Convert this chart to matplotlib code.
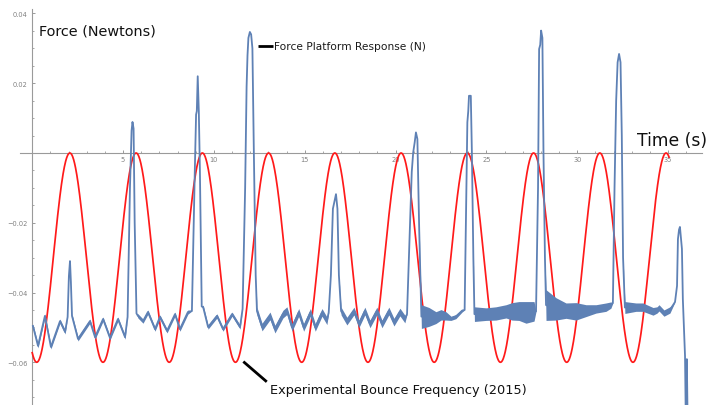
import numpy as np
import matplotlib
matplotlib.use("Agg")
import matplotlib.pyplot as plt
from matplotlib.ticker import FixedLocator, FixedFormatter

# ---------------- data ----------------
# Force platform response (time s, force N, half-width of the noise band N)
force_t = [0.04, 0.32, 0.70, 1.03, 1.53, 1.81, 1.95, 2.02, 2.08, 2.13, 2.19, 2.52, 3.18, 3.46, 3.90, 4.28, 4.72, 5.11, 5.25,
           5.38, 5.47, 5.52, 5.58, 5.64, 5.74,
           5.82, 6.10, 6.37, 6.76, 7.03, 7.42, 7.86, 8.13, 8.57, 8.79,
           8.95, 9.02, 9.06, 9.11, 9.17, 9.23, 9.33,
           9.41, 9.68, 10.17, 10.50, 11.00, 11.44, 11.58,
           11.72, 11.80, 11.85, 11.90, 11.98, 12.05, 12.12, 12.20, 12.30,
           12.37, 12.65, 13.09, 13.36, 13.80, 14.02, 14.30, 14.67, 14.94, 15.31, 15.58, 15.95, 16.22, 16.32,
           16.44, 16.55, 16.63, 16.72, 16.80, 16.88,
           17.00, 17.32, 17.71, 17.98, 18.31, 18.59, 18.97, 19.25, 19.63, 19.91, 20.24, 20.51, 20.63,
           20.80, 20.89, 20.97, 21.05, 21.12, 21.20, 21.30,
           21.42, 21.84, 22.22, 22.50, 22.77, 23.05, 23.32, 23.66, 23.80,
           23.90, 23.95, 24.00, 24.04, 24.14, 24.20, 24.28,
           24.34, 24.98, 25.52, 26.08, 26.41, 26.79, 27.18, 27.62, 27.73,
           27.84, 27.90, 27.96, 28.01, 28.08, 28.14, 28.22,
           28.28, 28.83, 29.38, 29.93, 30.48, 31.03, 31.58, 31.85, 31.96,
           32.05, 32.14, 32.22, 32.30, 32.38, 32.45, 32.52,
           32.62, 33.23, 33.61, 34.17, 34.39, 34.50, 34.77, 35.10, 35.38,
           35.49, 35.54, 35.60, 35.65, 35.70, 35.76, 35.81, 35.93, 35.98, 36.03, 36.08]
force_n = [-0.0496, -0.0553, -0.0467, -0.0556, -0.0482, -0.0513, -0.0470, -0.0353, -0.0310, -0.0370, -0.0467, -0.0533,
           -0.0482, -0.0528, -0.0476, -0.0530, -0.0476, -0.0528, -0.0470,
           -0.0100, 0.0064, 0.0089, 0.0070, -0.0200, -0.0460,
           -0.0467, -0.0482, -0.0456, -0.0505, -0.0470, -0.0510, -0.0462, -0.0505, -0.0456, -0.0453,
           -0.0050, 0.0110, 0.0120, 0.0220, 0.0120, -0.0050, -0.0440,
           -0.0442, -0.0499, -0.0467, -0.0505, -0.0462, -0.0499, -0.0447,
           -0.0100, 0.0190, 0.0280, 0.0330, 0.0347, 0.0340, 0.0300, 0.0000, -0.0350,
           -0.0453, -0.0499, -0.0467, -0.0505, -0.0462, -0.0452, -0.0500, -0.0457, -0.0500, -0.0457, -0.0500, -0.0457,
           -0.0481, -0.0457,
           -0.0350, -0.0160, -0.0140, -0.0118, -0.0160, -0.0350,
           -0.0453, -0.0482, -0.0453, -0.0490, -0.0453, -0.0490, -0.0453, -0.0490, -0.0453, -0.0485, -0.0456, -0.0476,
           -0.0462,
           -0.0200, -0.0054, 0.0002, 0.0030, 0.0059, 0.0040, -0.0220,
           -0.0469, -0.0470, -0.0472, -0.0464, -0.0467, -0.0474, -0.0469, -0.0452, -0.0450,
           -0.0100, 0.0088, 0.0120, 0.0164, 0.0164, 0.0000, -0.0300,
           -0.0462, -0.0462, -0.0460, -0.0454, -0.0454, -0.0453, -0.0457, -0.0454, -0.0454,
           -0.0100, 0.0298, 0.0310, 0.0351, 0.0330, 0.0000, -0.0300,
           -0.0436, -0.0447, -0.0452, -0.0454, -0.0452, -0.0447, -0.0442, -0.0436, -0.0430,
           -0.0100, 0.0150, 0.0260, 0.0284, 0.0260, 0.0050, -0.0300,
           -0.0443, -0.0442, -0.0442, -0.0454, -0.0450, -0.0444, -0.0459, -0.0450, -0.0427,
           -0.0381, -0.0247, -0.0220, -0.0212, -0.0240, -0.0275, -0.0419, -0.0582, -0.0800, -0.0591, -0.0800]
force_noise = [0.0006, 0.0006, 0.0006, 0.0006, 0.0006, 0.0006, 0, 0, 0, 0, 0.0006, 0.0006, 0.0006, 0.0006, 0.0006,
               0.0006, 0.0006, 0.0006, 0,
               0, 0, 0, 0, 0, 0,
               0.0006, 0.0006, 0.0006, 0.0006, 0.0006, 0.0006, 0.0006, 0.0006, 0.0006, 0,
               0, 0, 0, 0, 0, 0, 0,
               0.0006, 0.0006, 0.0006, 0.0006, 0.0006, 0.0006, 0,
               0, 0, 0, 0, 0, 0, 0, 0, 0,
               0.0011, 0.0011, 0.0011, 0.0011, 0.0011, 0.0011, 0.0011, 0.0011, 0.0011, 0.0011, 0.0011, 0.0011, 0.0011, 0,
               0, 0, 0, 0, 0, 0,
               0.0011, 0.0011, 0.0011, 0.0011, 0.0011, 0.0011, 0.0011, 0.0011, 0.0011, 0.0011, 0.0011, 0.0011, 0,
               0, 0, 0, 0, 0, 0, 0,
               0.0034, 0.0027, 0.0017, 0.0015, 0.0012, 0.0006, 0.0006, 0.0004, 0,
               0, 0, 0, 0, 0, 0, 0,
               0.0021, 0.0018, 0.0019, 0.0019, 0.0025, 0.0027, 0.0031, 0.0028, 0,
               0, 0, 0, 0, 0, 0, 0,
               0.0044, 0.0032, 0.0022, 0.0025, 0.0017, 0.0012, 0.0012, 0.0009, 0,
               0, 0, 0, 0, 0, 0, 0,
               0.0017, 0.0012, 0.0012, 0.0011, 0.0009, 0.0009, 0.0009, 0.0009, 0,
               0, 0, 0, 0, 0, 0, 0, 0, 0, 0, 0]

# Experimental bounce frequency (2015): cosine model parameters
bounce_mid = -0.03
bounce_amp = 0.03
bounce_period = 3.646
bounce_phase = 0.25
bounce_start = 0.0
bounce_end = 35.05

x_major = [5, 10, 15, 20, 25, 30, 35]
x_labels = ["5", "10", "15", "20", "25", "30", "35"]
x_minor = list(range(1, 37))
y_major = [-0.06, -0.04, -0.02, 0.02, 0.04]
y_labels = ["\u22120.06", "\u22120.04", "\u22120.02", "0.02", "0.04"]
y_minor = [round(-0.07 + 0.005 * i, 3) for i in range(23)]

# ---------------- figure ----------------
fig = plt.figure(figsize=(7.19, 4.06), dpi=100)
ax = fig.add_axes([0, 0, 1, 1])
ax.set_xlim(-1.772, 37.80)
ax.set_ylim(-0.07225, 0.04415)

blue = "#5E81B5"
red = "#FF1A1A"
axis_col = "#9a9a9a"

# red model curve
tb = np.linspace(bounce_start, bounce_end, 2000)
yb = bounce_mid - bounce_amp * np.cos(2 * np.pi * (tb - bounce_phase) / bounce_period)
ax.plot(tb, yb, color=red, lw=1.25, zorder=2)

# blue force trace with noise band
ft = np.array(force_t)
fn = np.array(force_n)
fz = np.array(force_noise)
ax.fill_between(ft, fn - fz, fn + fz, color=blue, lw=0, zorder=3)
ax.plot(ft, fn, color=blue, lw=1.3, zorder=3, solid_joinstyle="round")

# axes styling (Mathematica-like axes through origin)
for s in ["top", "right"]:
    ax.spines[s].set_visible(False)
ax.spines["left"].set_position(("data", 0))
ax.spines["bottom"].set_position(("data", 0))
ax.spines["left"].set_bounds(-0.0723, 0.0413)
ax.spines["bottom"].set_bounds(-0.67, 36.88)
for s in ["left", "bottom"]:
    ax.spines[s].set_color(axis_col)
    ax.spines[s].set_linewidth(0.8)
    ax.spines[s].set_zorder(1)

ax.xaxis.set_major_locator(FixedLocator(x_major))
ax.xaxis.set_major_formatter(FixedFormatter(x_labels))
ax.xaxis.set_minor_locator(FixedLocator(x_minor))
ax.yaxis.set_major_locator(FixedLocator(y_major))
ax.yaxis.set_major_formatter(FixedFormatter(y_labels))
ax.yaxis.set_minor_locator(FixedLocator(y_minor))
ax.tick_params(which="major", direction="in", length=2.5, width=0.7, color=axis_col,
               labelsize=4.8, labelcolor="#808080")
ax.tick_params(which="minor", direction="in", length=1.4, width=0.6, color=axis_col)
ax.tick_params(axis="x", which="major", pad=2.2)
ax.tick_params(axis="y", which="major", pad=3.5)

# texts
ax.text(0.37, 0.0350, "Force (Newtons)", fontsize=10.4, color="#111111", ha="left", va="center")
ax.text(33.28, 0.0036, "Time (s)", fontsize=12.3, color="#111111", ha="left", va="center")

ax.plot([12.43, 13.25], [0.0307, 0.0307], color="black", lw=2.0, solid_capstyle="butt", zorder=4)
ax.text(13.33, 0.0307, "Force Platform Response (N)", fontsize=7.7, color="#1a1a1a",
        ha="left", va="center")

ax.plot([11.62, 12.91], [-0.0598, -0.0656], color="black", lw=2.0, solid_capstyle="butt", zorder=4)
ax.text(13.10, -0.0677, "Experimental Bounce Frequency (2015)", fontsize=9.3, color="#111111",
        ha="left", va="center")

fig.savefig("out.png", dpi=100)
